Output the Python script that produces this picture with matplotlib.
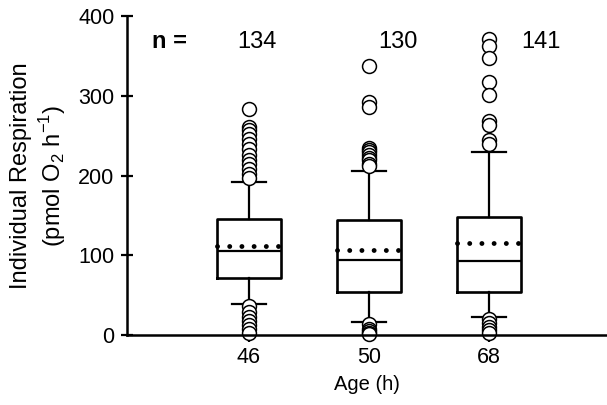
import matplotlib
matplotlib.use("Agg")
import matplotlib.pyplot as plt

plt.rcParams['font.family'] = ['Liberation Sans', 'DejaVu Sans']
plt.rcParams['mathtext.fontset'] = 'custom'
plt.rcParams['mathtext.rm'] = 'Liberation Sans'

ages = ["46", "50", "68"]
n_counts = ["134", "130", "141"]
q1 = [72, 54, 54]
medians = [105, 94, 93]
q3 = [145, 144, 148]
means = [112, 106, 115]
whis_lo = [39, 16, 22]
whis_hi = [192, 206, 230]
fliers_46 = [284, 261, 257, 252, 246, 240, 233, 226, 220, 214, 208, 202, 197,
             36, 29, 23, 17, 12, 7, 3]
fliers_50 = [337, 292, 286, 235, 232, 229, 226, 222, 219, 215, 212,
             14, 8, 5, 3, 1]
fliers_68 = [372, 363, 348, 318, 301, 269, 264, 245, 239,
             20, 15, 10, 6, 2]
fliers = [fliers_46, fliers_50, fliers_68]

fig = plt.figure(figsize=(6.07, 4.05), dpi=100)
ax = fig.add_axes([0.209, 0.173, 0.791, 0.787])

stats = []
for i in range(3):
    stats.append(dict(med=medians[i], q1=q1[i], q3=q3[i], mean=means[i],
                      whislo=whis_lo[i], whishi=whis_hi[i], fliers=fliers[i],
                      label=ages[i]))

positions = [1, 2, 3]
bp = ax.bxp(stats, positions=positions, widths=0.53, showmeans=True,
            meanline=True, patch_artist=False,
            boxprops=dict(color='black', linewidth=1.9),
            medianprops=dict(color='black', linewidth=1.6),
            whiskerprops=dict(color='black', linewidth=1.6),
            capprops=dict(color='black', linewidth=1.6),
            capwidths=0.28,
            meanprops=dict(color='black', linewidth=3.5, linestyle=(0, (0.01, 2.5))),
            flierprops=dict(marker='o', markerfacecolor='white',
                            markeredgecolor='black', markersize=10,
                            markeredgewidth=1.1))
for f in bp['fliers']:
    f.set_clip_on(False)
for m in bp['means']:
    m.set_dash_capstyle('round')

ax.set_xlim(-0.017, 3.983)
ax.set_ylim(0, 400)
ax.set_yticks([0, 100, 200, 300, 400])
ax.set_xticks(positions)
ax.set_xticklabels(ages)

for s in ['top', 'right']:
    ax.spines[s].set_visible(False)
for s in ['left', 'bottom']:
    ax.spines[s].set_linewidth(1.8)

ax.tick_params(axis='y', direction='inout', length=8, width=1.6, labelsize=15.5, pad=5)
ax.tick_params(axis='x', direction='out', length=5, width=1.6, labelsize=15.5, pad=4)

ax.set_ylabel("Individual Respiration\n(pmol O$_\\mathregular{2}$ h$^\\mathregular{-1}$)",
              fontsize=17, linespacing=1.25, labelpad=7)
ax.set_xlabel("Age (h)", fontsize=14.5, labelpad=5)

ax.text(0.34, 368, "n =", fontsize=17, fontweight='bold', ha='center', va='center')
n_x = [1.064, 2.24, 3.43]
for x, t in zip(n_x, n_counts):
    ax.text(x, 368, t, fontsize=17, ha='center', va='center')

fig.savefig("out.png", dpi=100)
